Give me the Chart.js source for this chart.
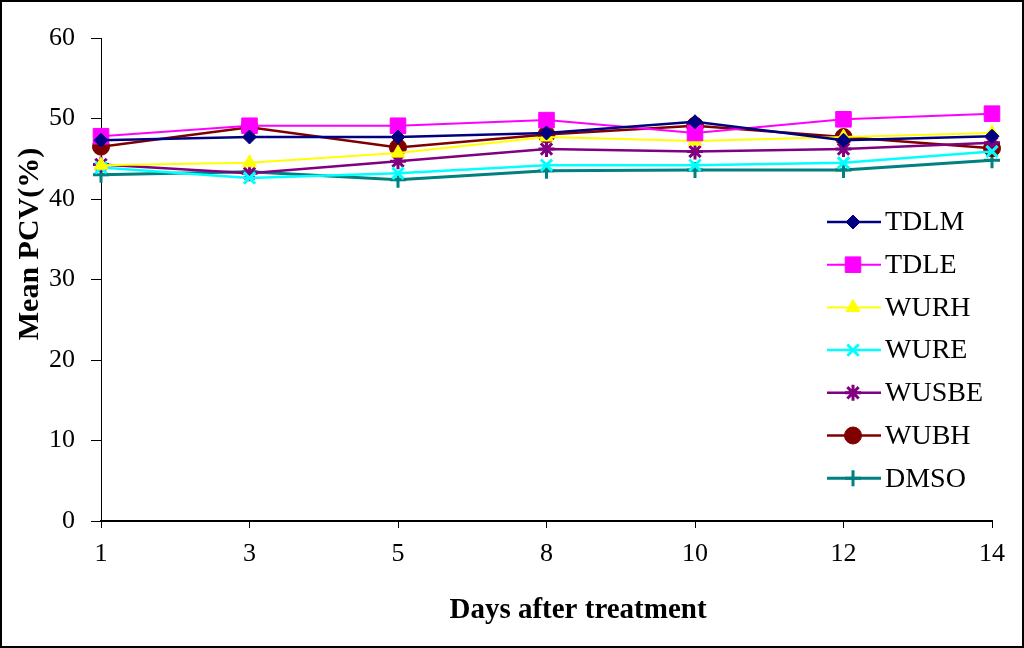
<!DOCTYPE html>
<html lang="en">
<head>
  <meta charset="UTF-8">
  <title>Mean PCV</title>
  <script src="https://cdn.jsdelivr.net/npm/chart.js"></script>
  <style>
    html, body { margin:0; padding:0; background:#fff; }
    #wrap { width:1024px; height:648px; position:relative; }
  </style>
</head>
<body>
<div id="wrap"><canvas id="pcvChart" width="1024" height="648"></canvas></div>

<script>
// days after treatment (evenly spaced categories)
const days  = ['1', '3', '5', '8', '10', '12', '14'];
const yTicks = [0, 10, 20, 30, 40, 50, 60];

// mean PCV (%) per group
const tdlm  = [47.3, 47.7, 47.7, 48.2, 49.6, 47.3, 47.8];
const tdle  = [47.8, 49.1, 49.1, 49.8, 48.2, 49.9, 50.6];
const wurh  = [44.2, 44.5, 45.7, 47.7, 47.2, 47.7, 48.2];
const wure  = [43.9, 42.6, 43.2, 44.2, 44.2, 44.5, 45.9];
const wusbe = [44.3, 43.2, 44.7, 46.2, 45.9, 46.2, 47.0];
const wubh  = [46.5, 48.9, 46.4, 48.0, 49.1, 47.7, 46.3];
const dmso  = [43.0, 43.4, 42.4, 43.5, 43.6, 43.6, 44.8];

const SERIF = "'Liberation Serif', 'Times New Roman', serif";

function series(label, data, color, style, radius, lw) {
  return {
    label, data,
    borderColor: color, backgroundColor: color,
    borderWidth: lw,
    pointStyle: style, pointRadius: radius, pointHoverRadius: radius,
    pointBackgroundColor: color, pointBorderColor: color,
    pointBorderWidth: (style === 'cross' || style === 'crossRot' || style === 'star') ? 3 : 1,
    tension: 0, fill: false
  };
}

const datasets = [
  series('TDLM',  tdlm,  '#000080', 'rectRot',  7, 2.5),
  series('TDLE',  tdle,  '#FF00FF', 'rect',    11, 2),
  series('WURH',  wurh,  '#FFFF00', 'triangle', 8, 2),
  series('WURE',  wure,  '#00FFFF', 'crossRot', 8, 2.5),
  series('WUSBE', wusbe, '#800080', 'star',     8, 2.5),
  series('WUBH',  wubh,  '#800000', 'circle',   8.5, 2.5),
  series('DMSO',  dmso,  '#008080', 'cross',    8, 3)
];

// legend box inside the plot, plus axis titles and frame
const extras = {
  id: 'extras',
  afterDraw(chart) {
    const c = chart.ctx;
    c.save();
    // legend
    chart.data.datasets.forEach((ds, i) => {
      const y = 222 + i * 42.7;
      c.strokeStyle = ds.borderColor;
      c.lineWidth = ds.borderWidth;
      c.beginPath(); c.moveTo(827, y); c.lineTo(881, y); c.stroke();
      c.fillStyle = ds.pointBackgroundColor;
      c.strokeStyle = ds.pointBorderColor;
      c.lineWidth = ds.pointBorderWidth;
      Chart.helpers.drawPoint(c, {
        pointStyle: ds.pointStyle, radius: ds.pointRadius,
        borderWidth: ds.pointBorderWidth, rotation: 0
      }, 853, y);
      c.fillStyle = '#000';
      c.font = '28px ' + SERIF;
      c.textAlign = 'left'; c.textBaseline = 'middle';
      c.fillText(ds.label, 885, y + 1);
    });
    // axis titles
    c.fillStyle = '#000';
    c.font = 'bold 29px ' + SERIF;
    c.textAlign = 'center'; c.textBaseline = 'middle';
    c.fillText('Days after treatment', 578, 611);
    c.translate(30, 244);
    c.rotate(-Math.PI / 2);
    c.font = 'bold 30px ' + SERIF;
    c.fillText('Mean PCV(%)', 0, 0);
    c.restore();
    // outer frame
    c.save();
    c.strokeStyle = '#000'; c.lineWidth = 2;
    c.strokeRect(1, 1, 1022, 646);
    c.restore();
  }
};

const ctx = document.getElementById('pcvChart').getContext('2d');
new Chart(ctx, {
  type: 'line',
  data: { labels: days, datasets },
  options: {
    responsive: false, animation: false,
    layout: { padding: { top: 38, right: 32, left: 0, bottom: 0 } },
    plugins: { legend: { display: false }, tooltip: { enabled: false } },
    scales: {
      x: {
        type: 'category', offset: false,
        grid: { drawOnChartArea: false, drawTicks: true, tickLength: 7, color: '#000', lineWidth: 1 },
        border: { color: '#000', width: 2 },
        ticks: { color: '#000', font: { family: SERIF, size: 26 }, padding: 11, maxRotation: 0, autoSkip: false },
        afterFit(s) { s.height = 127; }
      },
      y: {
        min: 0, max: 60,
        afterBuildTicks(s) { s.ticks = yTicks.map(v => ({ value: v })); },
        grid: { drawOnChartArea: false, drawTicks: true, tickLength: 10, color: '#000', lineWidth: 1 },
        border: { color: '#000', width: 1 },
        ticks: { color: '#000', font: { family: SERIF, size: 26 }, padding: 16 },
        afterFit(s) { s.width = 101; }
      }
    }
  },
  plugins: [extras]
});
</script>
</body>
</html>
